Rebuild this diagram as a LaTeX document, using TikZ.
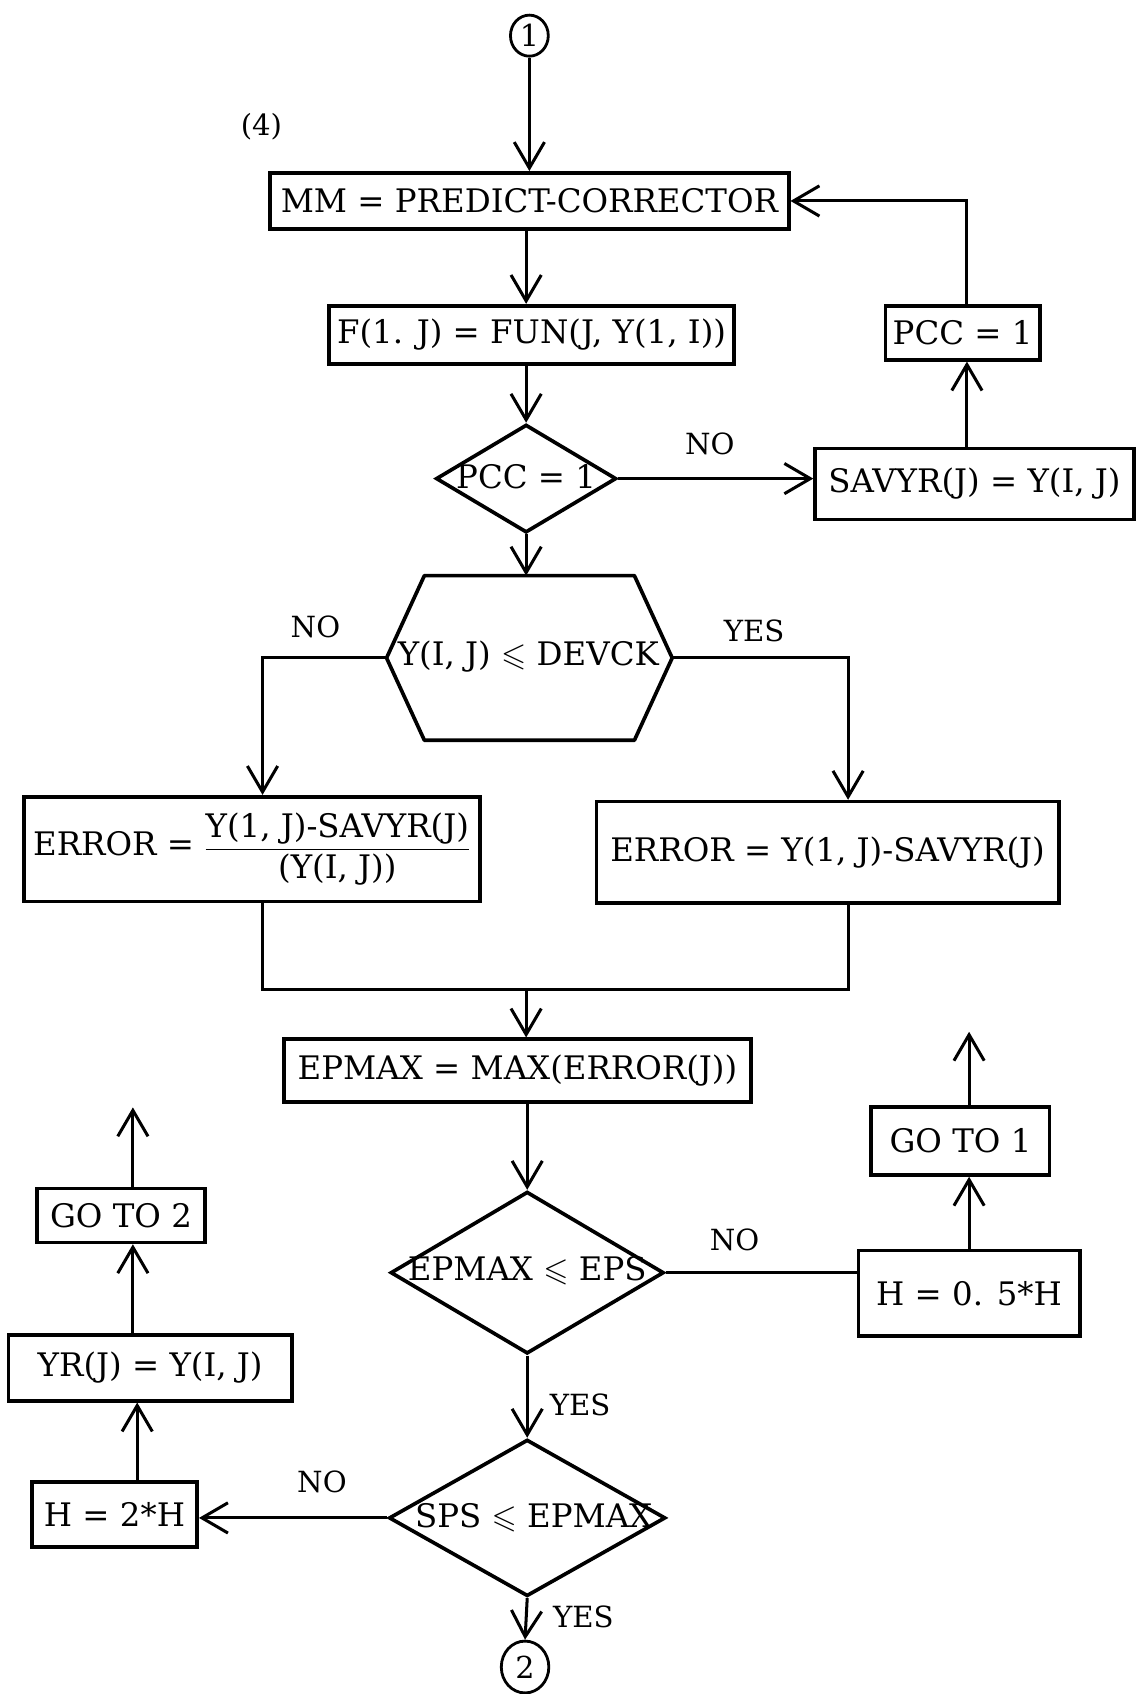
\documentclass[tikz,border=0pt]{standalone}
\usepackage{amssymb}
\usepackage{fontspec}
\setmainfont{DejaVu Serif}
\usetikzlibrary{arrows.meta,shapes.geometric,calc}
\begin{document}
\begin{tikzpicture}[x=1pt,y=-1pt,
  every node/.style={font=\fontsize{30}{34}\selectfont},
  box/.style={draw, line width=3.4pt, inner sep=0pt},
  dia/.style={draw, diamond, line width=3.4pt, inner sep=0pt},
  conn/.style={line width=2.8pt},
  arr/.style={conn, -{Straight Barb[length=24pt,width=28pt]}},
  lbl/.style={font=\fontsize{27}{31}\selectfont},
  circ/.style={draw, ellipse, line width=2.6pt, inner sep=0pt, font=\fontsize{28}{32}\selectfont}]
\useasboundingbox (0,0) rectangle (1052,1568);
% reference x positions
\coordinate (main) at (487,0);
\coordinate (px) at (895,0);
\coordinate (lx) at (243,0);
\coordinate (rx) at (785,0);
\coordinate (j) at (487,916);
\coordinate (gx1) at (897,0);
\coordinate (top1) at (897,955);
\coordinate (gx2) at (123,0);
\coordinate (hx2) at (127,0);
\coordinate (top2) at (123,1025);
% nodes
\node[circ, minimum width=35pt, minimum height=38pt] (c1) at (490,33) {1};
\node[lbl] (n4) at (242,117) {(4)};
\node[box, minimum width=480pt, minimum height=52pt] (mm) at (490,186) {MM = PREDICT-CORRECTOR};
\node[box, minimum width=375pt, minimum height=54pt] (f) at (492,310) {F(1. J) = FUN(J, Y(1, I))};
\node[dia, minimum width=167pt, minimum height=100pt] (d1) at (487,443) {};
\node (t1) at (487,441) {PCC = 1};
\node[box, minimum width=295pt, minimum height=66pt] (sav) at (902,448) {SAVYR(J) = Y(I, J)};
\node[box, minimum width=143pt, minimum height=50pt] (pcc) at (891,308) {PCC = 1};
\node[minimum width=264pt, minimum height=152pt, inner sep=0pt] (hex) at (490,609) {};
\draw[line width=3.4pt, line join=round] (hex.west) -- ([xshift=35pt]hex.north west) -- ([xshift=-35pt]hex.north east) -- (hex.east) -- ([xshift=-35pt]hex.south east) -- ([xshift=35pt]hex.south west) -- cycle;
\node (thex) at (489,608) {Y(I, J) $\leqslant$ DEVCK};
\node[box, minimum width=422pt, minimum height=97pt] (e1) at (233,786) {ERROR = $\displaystyle\frac{\mbox{Y(1, J)-SAVYR(J)}}{\mbox{(Y(I, J))}}$};
\node[box, minimum width=428pt, minimum height=94pt] (e2) at (766,789) {ERROR = Y(1, J)-SAVYR(J)};
\node[box, minimum width=432pt, minimum height=58pt] (ep) at (479,991) {EPMAX = MAX(ERROR(J))};
\node[dia, minimum width=253pt, minimum height=150pt] (d2) at (488,1178) {};
\node (t2) at (488,1176) {EPMAX $\leqslant$ EPS};
\node[box, minimum width=205pt, minimum height=79pt] (h05) at (897,1197) {H = 0. 5*H};
\node[box, minimum width=165pt, minimum height=63pt] (go1) at (889,1056) {GO TO 1};
\node[dia, minimum width=256pt, minimum height=145pt] (d3) at (488,1405) {};
\node (t3) at (494,1405) {SPS $\leqslant$ EPMAX};
\node[box, minimum width=153pt, minimum height=60pt] (h2) at (106,1402) {H = 2*H};
\node[box, minimum width=262pt, minimum height=61pt] (yr) at (139,1266) {YR(J) = Y(I, J)};
\node[box, minimum width=156pt, minimum height=50pt] (go2) at (112,1125) {GO TO 2};
\node[circ, minimum width=44pt, minimum height=48pt] (c2) at (486,1543) {2};
% labels
\node[lbl] (l1) at (657,411) {NO};
\node[lbl] (l2) at (292,580) {NO};
\node[lbl] (l3) at (698,584) {YES};
\node[lbl] (l4) at (680,1148) {NO};
\node[lbl] (l5) at (537,1300) {YES};
\node[lbl] (l6) at (298,1372) {NO};
\node[lbl] (l7) at (540,1497) {YES};
% connectors
\draw[arr] (c1.south) -- (c1.south |- mm.north);
\draw[arr] (mm.south -| main) -- (f.north -| main);
\draw[arr] (f.south -| main) -- (d1.north);
\draw[arr] (d1.east) -- (sav.west |- d1.east);
\draw[arr] (sav.north -| px) -- (pcc.south -| px);
\draw[arr] (pcc.north -| px) |- (mm.east);
\draw[arr] (d1.south) -- (d1.south |- hex.north);
\draw[arr] (hex.west) -| (e1.north -| lx);
\draw[arr] (hex.east) -| (e2.north -| rx);
\draw[conn] (e1.south -| lx) -- (lx |- j) -- (rx |- j) -- (e2.south -| rx);
\draw[arr] (j) -- (ep.north -| j);
\draw[arr] (ep.south -| d2.north) -- (d2.north);
\draw[conn] (d2.east) -- (h05.west |- d2.east);
\draw[arr] (h05.north -| gx1) -- (go1.south -| gx1);
\draw[arr] (go1.north -| gx1) -- (top1);
\draw[arr] (d2.south) -- (d3.north);
\draw[arr] (d3.west) -- (h2.east |- d3.west);
\draw[arr] (h2.north -| hx2) -- (yr.south -| hx2);
\draw[arr] (yr.north -| gx2) -- (go2.south -| gx2);
\draw[arr] (go2.north -| gx2) -- (top2);
\draw[arr] (d3.south) -- (c2.north);
\end{tikzpicture}
\end{document}
